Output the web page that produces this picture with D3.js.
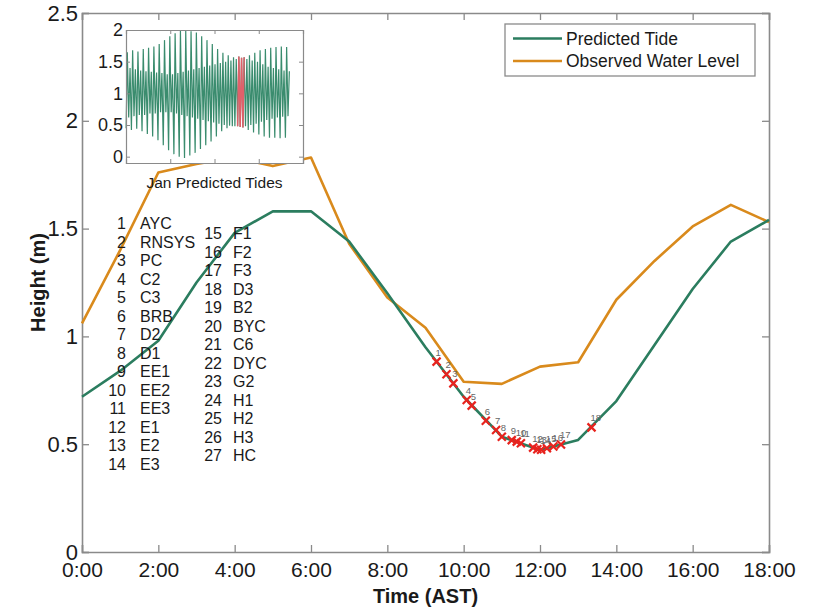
<!DOCTYPE html>
<html><head><meta charset="utf-8">
<script src="https://cdn.jsdelivr.net/npm/d3@7"></script>
<style>body{margin:0;background:#fff}svg{display:block;font-family:Arial,"Liberation Sans",sans-serif}</style>
</head><body><svg id="c" width="821" height="609"></svg>
<script>
// ---- main chart data ----
const hours = [0,1,2,3,4,5,6,7,8,9,10,11,12,13,14,15,16,17,18];
const predicted = [0.72,0.84,0.98,1.25,1.48,1.58,1.58,1.44,1.20,0.95,0.72,0.535,0.473,0.52,0.70,0.96,1.22,1.44,1.54];
const observed  = [1.06,1.40,1.76,1.80,1.83,1.79,1.83,1.43,1.18,1.04,0.79,0.78,0.86,0.88,1.17,1.35,1.51,1.61,1.53];
const xTickHours = [0,2,4,6,8,10,12,14,16,18];
const xTickLabels = ["0:00","2:00","4:00","6:00","8:00","10:00","12:00","14:00","16:00","18:00"];
const yTicks = [0,0.5,1,1.5,2,2.5];
const seriesNames = ["Predicted Tide","Observed Water Level"];

// ---- station markers ----
const stationTime   = [9.29,9.55,9.73,10.08,10.21,10.58,10.85,11.0,11.26,11.39,11.50,11.82,11.93,12.03,12.18,12.35,12.55,13.35];
const stationHeight = [0.883,0.824,0.782,0.705,0.679,0.609,0.566,0.535,0.519,0.512,0.504,0.484,0.477,0.474,0.481,0.489,0.499,0.578];
const stationLabel  = ["1","2","3","4","5","6","7","8","9","10","11","12","13","14","15","16","17","18"];

// ---- station list ----
const stationNums  = ["1","2","3","4","5","6","7","8","9","10","11","12","13","14","15","16","17","18","19","20","21","22","23","24","25","26","27"];
const stationNames = ["AYC","RNSYS","PC","C2","C3","BRB","D2","D1","EE1","EE2","EE3","E1","E2","E3","F1","F2","F3","D3","B2","BYC","C6","DYC","G2","H1","H2","H3","HC"];

// ---- inset: January predicted tides (daily extremes) ----
const janHigherHigh = [1.65,1.68,1.66,1.70,1.72,1.74,1.78,1.84,1.90,1.95,1.99,2.00,1.98,1.96,1.90,1.84,1.78,1.70,1.64,1.60,1.57,1.58,1.57,1.60,1.64,1.68,1.70,1.72,1.73,1.74,1.73];
const janLowerLow   = [0.45,0.42,0.44,0.40,0.36,0.32,0.26,0.18,0.10,0.04,0.00,-0.02,0.02,0.06,0.12,0.18,0.24,0.32,0.40,0.45,0.48,0.48,0.46,0.42,0.38,0.35,0.32,0.30,0.30,0.29,0.30];
const janLowerHigh  = [1.40,1.38,1.36,1.35,1.34,1.33,1.32,1.30,1.30,1.32,1.34,1.36,1.38,1.40,1.42,1.44,1.46,1.48,1.50,1.52,1.54,1.56,1.54,1.52,1.50,1.46,1.42,1.40,1.38,1.36,1.35];
const janHigherLow  = [0.62,0.64,0.66,0.66,0.68,0.68,0.70,0.70,0.70,0.68,0.66,0.64,0.62,0.60,0.58,0.56,0.54,0.52,0.50,0.49,0.48,0.47,0.48,0.50,0.52,0.55,0.58,0.60,0.62,0.63,0.64];
const extremeHourOfDay = [0.5,6.0,12.2,18.3]; // low, high, low, high
const insetYTicks = [0,0.5,1,1.5,2];
const insetXTicks = [0,200,400,600,800];
const highlightDay = 21;

const green = "#2b7d5f", orange = "#d98a1c", axisCol = "#8a8a8a";
const svg = d3.select("#c");
const M = {l:82, r:769, t:13, b:552};
const x = d3.scaleLinear().domain([0,18]).range([M.l, M.r]);
const y = d3.scaleLinear().domain([0,2.5]).range([M.b, M.t]);

// axes with MATLAB-style inward ticks on all four sides
const fmtY = d => d3.format("~g")(d);
const gxB = svg.append("g").attr("transform",`translate(0,${M.b})`)
  .call(d3.axisBottom(x).tickValues(xTickHours).tickSize(-7).tickPadding(10).tickFormat((d,i)=>xTickLabels[i]));
const gxT = svg.append("g").attr("transform",`translate(0,${M.t})`)
  .call(d3.axisTop(x).tickValues(xTickHours).tickSize(-7).tickFormat(""));
const gyL = svg.append("g").attr("transform",`translate(${M.l},0)`)
  .call(d3.axisLeft(y).tickValues(yTicks).tickSize(-7).tickPadding(4).tickFormat(fmtY));
const gyR = svg.append("g").attr("transform",`translate(${M.r},0)`)
  .call(d3.axisRight(y).tickValues(yTicks).tickSize(-7).tickFormat(""));
[gxB,gxT,gyL,gyR].forEach(g=>{
  g.select(".domain").attr("stroke",axisCol).attr("stroke-width",1.6);
  g.selectAll(".tick line").attr("stroke",axisCol).attr("stroke-width",1.3);
  g.selectAll("text").attr("fill","#1a1a1a").attr("font-size",21).attr("font-family","Arial, 'Liberation Sans', sans-serif");
});
gyL.selectAll("text").attr("font-size",22);
svg.append("text").attr("x",(M.l+M.r)/2).attr("y",603).attr("text-anchor","middle")
  .attr("font-weight","bold").attr("font-size",20).attr("fill","#1a1a1a").text("Time (AST)");
svg.append("text").attr("transform",`translate(45,${(M.t+M.b)/2}) rotate(-90)`).attr("text-anchor","middle")
  .attr("font-weight","bold").attr("font-size",20).attr("fill","#1a1a1a").text("Height (m)");

// lines
const line = d3.line().x((d,i)=>x(hours[i])).y(d=>y(d));
svg.append("path").datum(observed).attr("d",line).attr("fill","none").attr("stroke",orange).attr("stroke-width",2.6).attr("stroke-linejoin","round");
svg.append("path").datum(predicted).attr("d",line).attr("fill","none").attr("stroke",green).attr("stroke-width",2.6).attr("stroke-linejoin","round");

// station markers
const mk = svg.append("g");
stationTime.forEach((t,i)=>{
  const cx = x(t), cy = y(stationHeight[i]), s = 4;
  mk.append("path").attr("d",`M${cx-s},${cy-s}L${cx+s},${cy+s}M${cx-s},${cy+s}L${cx+s},${cy-s}`)
    .attr("stroke","#e8231e").attr("stroke-width",2.2).attr("fill","none");
});
stationTime.forEach((t,i)=>{
  mk.append("text").attr("x",x(t)-1).attr("y",y(stationHeight[i])-6).attr("font-size",9.5).attr("fill","#666").text(stationLabel[i]);
});

// station list
const list = svg.append("g").attr("font-size",16).attr("fill","#1a1a1a");
stationNums.forEach((n,i)=>{
  const col = i<14 ? 0 : 1, row = col===0 ? i : i-14;
  const numX = col===0 ? 126 : 222, nameX = col===0 ? 140 : 233;
  const yy = (col===0 ? 229 : 239) + row*18.5;
  list.append("text").attr("x",numX).attr("y",yy).attr("text-anchor","end").text(n);
  list.append("text").attr("x",nameX).attr("y",yy).text(stationNames[i]);
});

// legend
const lg = svg.append("g");
lg.append("rect").attr("x",505).attr("y",24).attr("width",250).attr("height",52).attr("fill","#fff").attr("stroke",axisCol).attr("stroke-width",1.3);
[green,orange].forEach((c,i)=>{
  const ly = 38.5 + i*22.5;
  lg.append("line").attr("x1",513).attr("x2",562).attr("y1",ly).attr("y2",ly).attr("stroke",c).attr("stroke-width",2.6);
  lg.append("text").attr("x",566).attr("y",ly+6).attr("font-size",17.5).attr("fill","#1a1a1a").text(seriesNames[i]);
});

// inset
const I = {l:126, r:303, t:30, b:163};
const ix = d3.scaleLinear().domain([0,800]).range([I.l, I.r]);
const iy = d3.scaleLinear().domain([-0.1,2]).range([I.b, I.t]);
svg.append("rect").attr("x",I.l).attr("y",I.t).attr("width",I.r-I.l).attr("height",I.b-I.t).attr("fill","#fff");
const janPts = [];
janHigherHigh.forEach((hh,d)=>{
  const vals = [janLowerLow[d], hh, janHigherLow[d], janLowerHigh[d]];
  vals.forEach((v,k)=>janPts.push({h:d*24+extremeHourOfDay[k], v, day:d}));
});
const iline = d3.line().x(p=>ix(p.h)).y(p=>iy(p.v));
svg.append("path").datum(janPts).attr("d",iline).attr("fill","none").attr("stroke","#3a8c6e").attr("stroke-width",1.2);
const hl = janPts.filter(p=>p.day===highlightDay || (p.day===highlightDay+1 && p.h<highlightDay*24+32));
svg.append("path").datum(hl).attr("d",iline).attr("fill","none").attr("stroke","#e0606a").attr("stroke-width",1.5);
const ixB = svg.append("g").attr("transform",`translate(0,${I.b})`).call(d3.axisBottom(ix).tickValues(insetXTicks).tickSize(-4).tickFormat(""));
const ixT = svg.append("g").attr("transform",`translate(0,${I.t})`).call(d3.axisTop(ix).tickValues(insetXTicks).tickSize(-4).tickFormat(""));
const iyL = svg.append("g").attr("transform",`translate(${I.l},0)`).call(d3.axisLeft(iy).tickValues(insetYTicks).tickSize(-4).tickPadding(3).tickFormat(fmtY));
const iyR = svg.append("g").attr("transform",`translate(${I.r},0)`).call(d3.axisRight(iy).tickValues(insetYTicks).tickSize(-4).tickFormat(""));
[ixB,ixT,iyL,iyR].forEach(g=>{
  g.select(".domain").attr("stroke",axisCol).attr("stroke-width",1.2);
  g.selectAll(".tick line").attr("stroke",axisCol);
  g.selectAll("text").attr("fill","#1a1a1a").attr("font-size",18).attr("font-family","Arial, 'Liberation Sans', sans-serif");
});
svg.append("text").attr("x",(I.l+I.r)/2).attr("y",188).attr("text-anchor","middle").attr("font-size",15.5).attr("fill","#1a1a1a").text("Jan Predicted Tides");
</script></body></html>
